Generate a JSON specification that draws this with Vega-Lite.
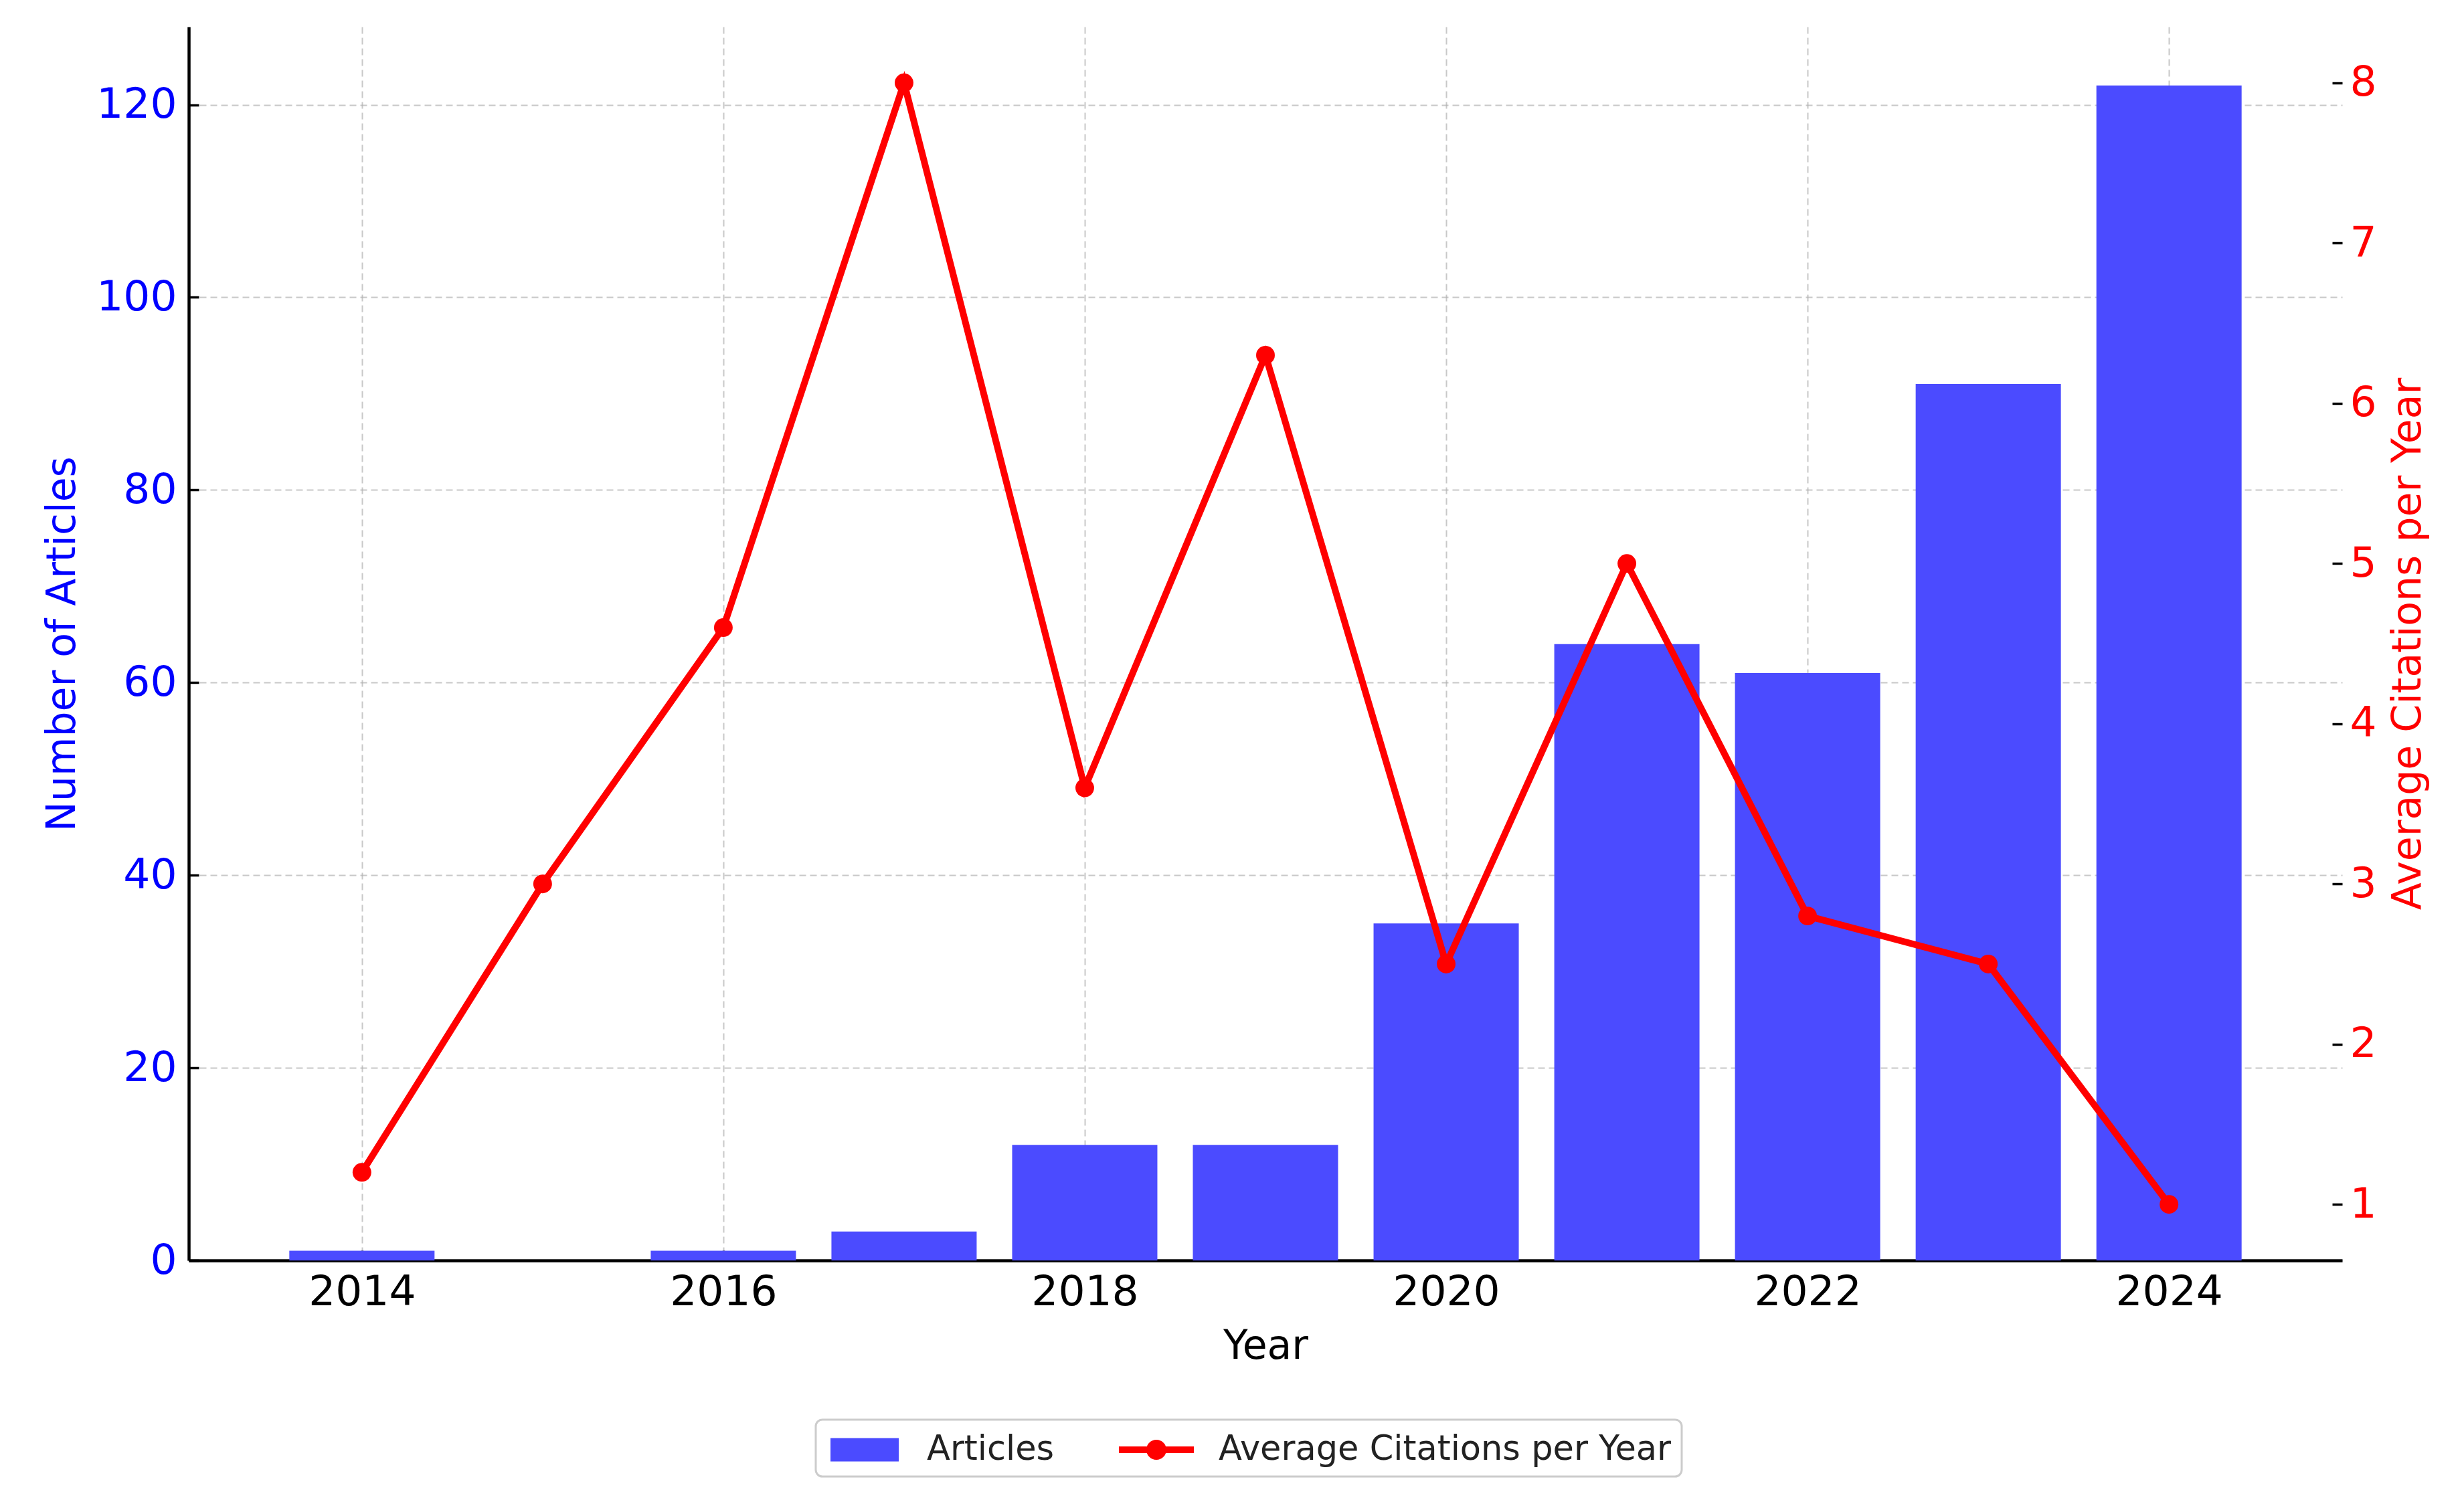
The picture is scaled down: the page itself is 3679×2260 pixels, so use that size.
{
  "$schema": "https://vega.github.io/schema/vega-lite/v6.json",
  "width": 3218,
  "height": 1844,
  "autosize": {"type": "none"},
  "padding": {"left": 282, "top": 40, "right": 179, "bottom": 376},
  "background": "white",
  "config": {
    "view": {"stroke": null},
    "font": "DejaVu Sans",
    "legend": {"strokeWidth": 3},
    "axis": {
      "labelFont": "DejaVu Sans",
      "titleFont": "DejaVu Sans",
      "labelFontSize": 63,
      "titleFontSize": 60,
      "labelFontWeight": "normal",
      "titleFontWeight": "normal",
      "domainColor": "black",
      "domainWidth": 4.5,
      "tickColor": "black",
      "tickWidth": 3.5,
      "tickSize": -15,
      "grid": true,
      "gridColor": "#b0b0b0",
      "gridOpacity": 0.7,
      "gridDash": [10, 6],
      "gridWidth": 2,
      "labelOverlap": false,
      "labelFlush": false,
      "zindex": 1
    }
  },
  "data": {
    "values": [
      {"year": 2014, "articles": 1, "citations": 1.2},
      {"year": 2015, "articles": 0, "citations": 3.0},
      {"year": 2016, "articles": 1, "citations": 4.6},
      {"year": 2017, "articles": 3, "citations": 8.0},
      {"year": 2018, "articles": 12, "citations": 3.6},
      {"year": 2019, "articles": 12, "citations": 6.3},
      {"year": 2020, "articles": 35, "citations": 2.5},
      {"year": 2021, "articles": 64, "citations": 5.0},
      {"year": 2022, "articles": 61, "citations": 2.8},
      {"year": 2023, "articles": 91, "citations": 2.5},
      {"year": 2024, "articles": 122, "citations": 1.0}
    ]
  },
  "layer": [
    {
      "mark": {"type": "bar", "size": 217, "opacity": 1},
      "encoding": {
        "x": {
          "field": "year",
          "type": "quantitative",
          "scale": {"domain": [2013.06, 2024.94], "nice": false, "zero": false},
          "axis": {
            "title": "Year",
            "values": [2014, 2016, 2018, 2020, 2022, 2024],
            "format": "d",
            "labelColor": "black",
            "titleColor": "black",
            "labelPadding": 31,
            "titlePadding": 20
          }
        },
        "y": {
          "field": "articles",
          "type": "quantitative",
          "scale": {"domain": [0, 128.1], "nice": false},
          "axis": {
            "title": "Number of Articles",
            "orient": "left",
            "values": [0, 20, 40, 60, 80, 100, 120],
            "labelColor": "#0000ff",
            "titleColor": "#0000ff",
            "labelPadding": 33,
            "titlePadding": 19
          }
        },
        "color": {
          "datum": "Articles",
          "type": "nominal",
          "scale": {
            "domain": ["Articles", "Average Citations per Year"],
            "range": ["#4b4bff", "#ff0000"]
          },
          "legend": {
            "title": null,
            "orient": "none",
            "legendX": 937,
            "legendY": 2082,
            "direction": "horizontal",
            "padding": 15,
            "cornerRadius": 10,
            "fillColor": "white",
            "strokeColor": "#cccccc",
            "symbolSize": 3600,
            "symbolStrokeWidth": 0,
            "symbolType": {"expr": "datum.value === 'Articles' ? 'M-0.767,-0.583H2.633V0.583H-0.767Z' : 'M-0.933,-0.167H2.8V0.167H-0.933Z M1.433,0A0.5,0.5,0,1,1,0.433,0A0.5,0.5,0,1,1,1.433,0Z'"},
            "labelOffset": 91,
            "columnPadding": 94,
            "labelFont": "DejaVu Sans",
            "labelFontSize": 51,
            "labelColor": "#222222",
            "labelLimit": 2000
          }
        }
      }
    },
    {
      "mark": {
        "type": "line",
        "strokeWidth": 10,
        "point": {"filled": true, "size": 780, "opacity": 1}
      },
      "encoding": {
        "x": {"field": "year", "type": "quantitative"},
        "y": {
          "field": "citations",
          "type": "quantitative",
          "scale": {"domain": [0.65, 8.35], "nice": false, "zero": false},
          "axis": {
            "title": "Average Citations per Year",
            "orient": "right",
            "values": [1, 2, 3, 4, 5, 6, 7, 8],
            "domain": false,
            "labelColor": "#ff0000",
            "titleColor": "#ff0000",
            "titleAngle": 270,
            "titleBaseline": "top",
            "labelPadding": 26,
            "titlePadding": 18
          }
        },
        "color": {"datum": "Average Citations per Year", "type": "nominal"}
      }
    }
  ],
  "resolve": {"scale": {"y": "independent"}}
}
